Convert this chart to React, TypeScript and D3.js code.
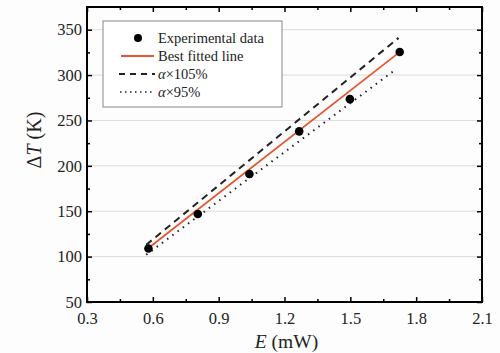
import { useEffect, useRef } from 'react';
import * as d3 from 'd3';

// measured points
const energy = [0.58, 0.805, 1.04, 1.267, 1.498, 1.725];
const deltaT = [109, 147, 191, 238, 273.5, 325.5];

// fitted line and ±5% slope bounds (end points)
const fitE = [0.57, 1.72];
const fitT = [107.5, 324.5];
const upperE = [0.57, 1.72];
const upperT = [113, 341];
const lowerE = [0.57, 1.70];
const lowerT = [102, 305];

const xTicks = [0.3, 0.6, 0.9, 1.2, 1.5, 1.8, 2.1];
const yTicks = [50, 100, 150, 200, 250, 300, 350];

const legendLabels = ['Experimental data', 'Best fitted line', 'α×105%', 'α×95%'];

const FONT = "'Liberation Serif', 'DejaVu Serif', serif";
const RED = '#e8552f';

export default function App() {
  const svgRef = useRef<SVGSVGElement>(null);

  useEffect(() => {
    const svg = d3.select(svgRef.current);
    if (!svg.node()) return;
    svg.selectAll('*').remove();

    const width = 500;
    const height = 353;
    const margin = { top: 7, right: 18, bottom: 51, left: 87 };

    const x = d3.scaleLinear().domain([0.3, 2.1]).range([margin.left, width - margin.right]);
    const y = d3.scaleLinear().domain([50, 375]).range([height - margin.bottom, margin.top]);

    svg.append('rect').attr('width', width).attr('height', height).attr('fill', '#fdfdfd');

    const g = svg.append('g');

    // horizontal grid
    g.append('g')
      .selectAll('line')
      .data(yTicks.slice(1))
      .join('line')
      .attr('x1', margin.left)
      .attr('x2', width - margin.right)
      .attr('y1', (d) => y(d))
      .attr('y2', (d) => y(d))
      .attr('stroke', '#dcdcdc')
      .attr('stroke-width', 1);

    const lineGen = (xs: number[], ys: number[]) =>
      d3.line<number>().x((d) => x(d)).y((_, i) => y(ys[i]))(xs);

    g.append('path')
      .attr('d', lineGen(upperE, upperT))
      .attr('fill', 'none')
      .attr('stroke', '#222')
      .attr('stroke-width', 2)
      .attr('stroke-dasharray', '7 5');

    g.append('path')
      .attr('d', lineGen(lowerE, lowerT))
      .attr('fill', 'none')
      .attr('stroke', '#222')
      .attr('stroke-width', 2)
      .attr('stroke-dasharray', '1.5 5');

    g.append('path')
      .attr('d', lineGen(fitE, fitT))
      .attr('fill', 'none')
      .attr('stroke', RED)
      .attr('stroke-width', 1.8);

    g.append('g')
      .selectAll('circle')
      .data(energy)
      .join('circle')
      .attr('cx', (d) => x(d))
      .attr('cy', (_, i) => y(deltaT[i]))
      .attr('r', 4.3)
      .attr('fill', '#000');

    // axes with inward ticks on all four sides
    const xMinor = d3.range(0.45, 2.1, 0.3);
    const yMinor = d3.range(75, 375, 50);

    const styleAxis = (sel: d3.Selection<SVGGElement, unknown, null, undefined>) => {
      sel.select('.domain').remove();
      sel.selectAll('line').attr('stroke', '#000').attr('stroke-width', 1.5);
    };

    const bottom = g.append('g').attr('transform', `translate(0,${y(50)})`);
    bottom.call(d3.axisBottom(x).tickValues(xTicks).tickSizeInner(-5).tickSizeOuter(0).tickPadding(10).tickFormat(d3.format('.1f')));
    styleAxis(bottom);
    bottom.selectAll('text').attr('font-family', FONT).attr('font-size', 16.5).attr('fill', '#222');
    g.append('g')
      .attr('transform', `translate(0,${y(50)})`)
      .call(d3.axisBottom(x).tickValues(xMinor).tickSizeInner(-3).tickSizeOuter(0).tickFormat(() => ''))
      .call(styleAxis);

    const top = g.append('g').attr('transform', `translate(0,${y(375)})`);
    top.call(d3.axisTop(x).tickValues(xTicks).tickSizeInner(-5).tickSizeOuter(0).tickFormat(() => ''));
    styleAxis(top);
    g.append('g')
      .attr('transform', `translate(0,${y(375)})`)
      .call(d3.axisTop(x).tickValues(xMinor).tickSizeInner(-3).tickSizeOuter(0).tickFormat(() => ''))
      .call(styleAxis);

    const left = g.append('g').attr('transform', `translate(${margin.left},0)`);
    left.call(d3.axisLeft(y).tickValues(yTicks).tickSizeInner(-5).tickSizeOuter(0).tickPadding(5));
    styleAxis(left);
    left.selectAll('text').attr('font-family', FONT).attr('font-size', 16.5).attr('fill', '#222');
    g.append('g')
      .attr('transform', `translate(${margin.left},0)`)
      .call(d3.axisLeft(y).tickValues(yMinor).tickSizeInner(-3).tickSizeOuter(0).tickFormat(() => ''))
      .call(styleAxis);

    const right = g.append('g').attr('transform', `translate(${width - margin.right},0)`);
    right.call(d3.axisRight(y).tickValues(yTicks).tickSizeInner(-5).tickSizeOuter(0).tickFormat(() => ''));
    styleAxis(right);
    g.append('g')
      .attr('transform', `translate(${width - margin.right},0)`)
      .call(d3.axisRight(y).tickValues(yMinor).tickSizeInner(-3).tickSizeOuter(0).tickFormat(() => ''))
      .call(styleAxis);

    // frame
    g.append('rect')
      .attr('x', margin.left)
      .attr('y', margin.top)
      .attr('width', width - margin.left - margin.right)
      .attr('height', height - margin.top - margin.bottom)
      .attr('fill', 'none')
      .attr('stroke', '#000')
      .attr('stroke-width', 2);

    // legend
    const lg = g.append('g').attr('transform', 'translate(103,21)');
    lg.append('rect')
      .attr('width', 179)
      .attr('height', 86)
      .attr('fill', '#fff')
      .attr('stroke', '#888')
      .attr('stroke-width', 1);
    const rowY = (i: number) => 17 + i * 18;
    lg.append('circle').attr('cx', 35).attr('cy', rowY(0)).attr('r', 4).attr('fill', '#000');
    lg.append('line').attr('x1', 18).attr('x2', 51).attr('y1', rowY(1)).attr('y2', rowY(1))
      .attr('stroke', RED).attr('stroke-width', 1.8);
    lg.append('line').attr('x1', 16).attr('x2', 52).attr('y1', rowY(2)).attr('y2', rowY(2))
      .attr('stroke', '#222').attr('stroke-width', 2).attr('stroke-dasharray', '6 5');
    lg.append('line').attr('x1', 17).attr('x2', 52).attr('y1', rowY(3)).attr('y2', rowY(3))
      .attr('stroke', '#222').attr('stroke-width', 1.6).attr('stroke-dasharray', '1.5 3.5');

    legendLabels.forEach((label, i) => {
      const t = lg.append('text')
        .attr('x', 55)
        .attr('y', rowY(i))
        .attr('dy', '0.35em')
        .attr('font-family', FONT)
        .attr('font-size', 14.5)
        .attr('fill', '#222');
      if (label.startsWith('α')) {
        t.append('tspan').attr('font-style', 'italic').text('α');
        t.append('tspan').text(label.slice(1));
      } else {
        t.text(label);
      }
    });

    // axis titles
    const xt = g.append('text')
      .attr('x', (margin.left + width - margin.right) / 2 + 2)
      .attr('y', 348)
      .attr('text-anchor', 'middle')
      .attr('font-family', FONT)
      .attr('font-size', 19.5)
      .attr('fill', '#222');
    xt.append('tspan').attr('font-style', 'italic').text('E');
    xt.append('tspan').text(' (mW)');

    const yt = g.append('text')
      .attr('transform', 'translate(41,140) rotate(-90)')
      .attr('text-anchor', 'middle')
      .attr('font-family', FONT)
      .attr('font-size', 20)
      .attr('fill', '#222');
    yt.append('tspan').text('Δ');
    yt.append('tspan').attr('font-style', 'italic').text('T');
    yt.append('tspan').text(' (K)');
  }, []);

  return (
    <svg
      ref={svgRef}
      width={500}
      height={353}
      style={{ position: 'absolute', left: 0, top: 0, display: 'block' }}
    />
  );
}
